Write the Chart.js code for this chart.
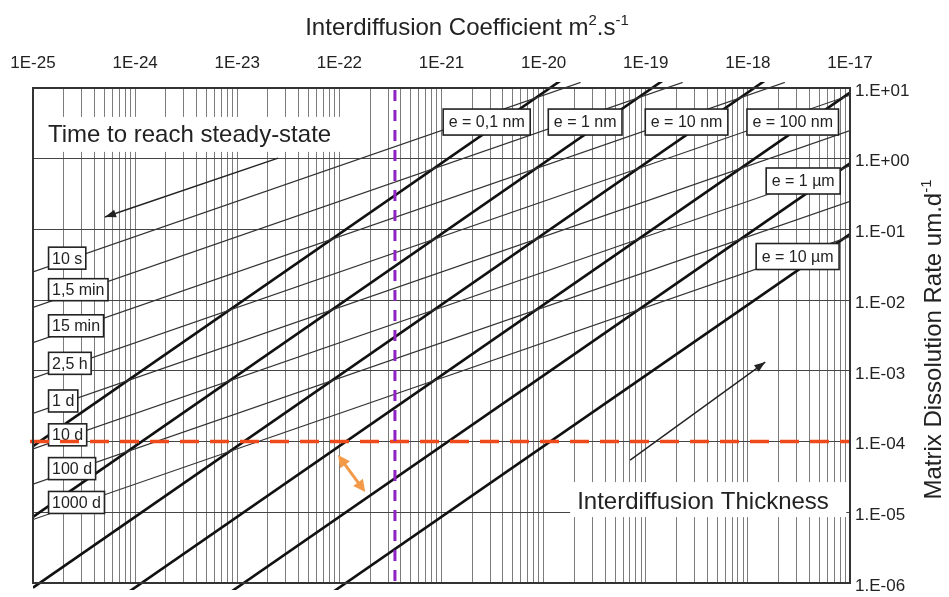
<!DOCTYPE html>
<html lang="en">
<head>
<meta charset="UTF-8">
<title>Interdiffusion Coefficient vs Matrix Dissolution Rate</title>
<script src="https://cdn.jsdelivr.net/npm/chart.js"></script>
<style>
  html, body { margin: 0; padding: 0; background: #fff; }
  #chart { display: block; }
</style>
</head>
<body>
<canvas id="chart" width="949" height="597"></canvas>
<script>
// Axis decades and their tick labels
const xDecades = [1e-25, 1e-24, 1e-23, 1e-22, 1e-21, 1e-20, 1e-19, 1e-18, 1e-17];
const xTickLabels = ['1E-25', '1E-24', '1E-23', '1E-22', '1E-21', '1E-20', '1E-19', '1E-18', '1E-17'];
const yDecades = [1e-6, 1e-5, 1e-4, 1e-3, 1e-2, 1e-1, 1e0, 1e1];
const yTickLabels = ['1.E-06', '1.E-05', '1.E-04', '1.E-03', '1.E-02', '1.E-01', '1.E+00', '1.E+01'];

// Interdiffusion thickness lines (thick), start / end points (D, rate)
const eLabels = ['e = 0,1 nm', 'e = 1 nm', 'e = 10 nm', 'e = 100 nm', 'e = 1 µm', 'e = 10 µm'];
const eStartD = [1e-25, 1e-25, 1e-25, 8.1e-25, 8.1e-24, 8.1e-23];
const eStartV = [8.6e-5, 8.6e-6, 8.6e-7, 7e-7, 7e-7, 7e-7];
const eEndD = [1.5e-20, 1.5e-19, 1.5e-18, 1e-17, 1e-17, 1e-17];
const eEndV = [13, 13, 13, 8.6, 0.86, 0.086];

// Time to reach steady-state lines (thin)
const tLabels = ['10 s', '1,5 min', '15 min', '2,5 h', '1 d', '10 d', '100 d', '1000 d'];
const tStartD = [1e-25, 1e-25, 1e-25, 1e-25, 1e-25, 1e-25, 1e-25, 1e-25];
const tStartV = [0.025, 0.0079, 0.0025, 7.9e-4, 2.5e-4, 7.9e-5, 2.5e-5, 7.9e-6];
const tEndD = [2.3e-20, 2.3e-19, 2.3e-18, 1e-17, 1e-17, 1e-17, 1e-17, 1e-17];
const tEndV = [12, 12, 12, 7.9, 2.5, 0.79, 0.25, 0.079];

// reference values (dashed lines)
const refRate = 1e-4;
const refCoef = 3.5e-22;

// annotation anchors, in data units
const eLabelD = [2.77e-21, 2.55e-20, 2.51e-19, 2.75e-18, 3.48e-18, 3.07e-18];
const eLabelV = [3.3, 3.3, 3.3, 3.3, 0.484, 0.0414];
const tLabelLeftD = 1.42e-25;

const FONT = '"Liberation Sans", Arial, Helvetica, sans-serif';
const INK = '#222';
const lineClip = { left: 0, top: 6, right: 0, bottom: 7 };

const datasets = [];
tLabels.forEach((lab, i) => {
    datasets.push({
        label: lab,
        data: [{ x: tStartD[i], y: tStartV[i] }, { x: tEndD[i], y: tEndV[i] }],
        borderColor: '#333',
        borderWidth: 1.2,
        pointRadius: 0,
        clip: lineClip
    });
});
eLabels.forEach((lab, i) => {
    datasets.push({
        label: lab,
        data: [{ x: eStartD[i], y: eStartV[i] }, { x: eEndD[i], y: eEndV[i] }],
        borderColor: '#111',
        borderWidth: 2.6,
        pointRadius: 0,
        clip: lineClip
    });
});

function decadeIndex(list, value) {
    return list.findIndex(d => Math.abs(Math.log10(d) - Math.log10(value)) < 1e-6);
}

function arrowHead(ctx, x0, y0, x1, y1, len, half) {
    const a = Math.atan2(y1 - y0, x1 - x0);
    ctx.beginPath();
    ctx.moveTo(x1, y1);
    ctx.lineTo(x1 - len * Math.cos(a) + half * Math.sin(a), y1 - len * Math.sin(a) - half * Math.cos(a));
    ctx.lineTo(x1 - len * Math.cos(a) - half * Math.sin(a), y1 - len * Math.sin(a) + half * Math.cos(a));
    ctx.closePath();
    ctx.fill();
}

function box(ctx, text, left, cy, h, padX, centered) {
    ctx.font = '16px ' + FONT;
    const w = ctx.measureText(text).width + padX * 2;
    const x = centered ? left - w / 2 : left;
    ctx.fillStyle = '#fff';
    ctx.fillRect(x, cy - h / 2, w, h);
    ctx.strokeStyle = INK;
    ctx.lineWidth = 1.6;
    ctx.strokeRect(x, cy - h / 2, w, h);
    ctx.fillStyle = INK;
    ctx.textAlign = 'center';
    ctx.textBaseline = 'middle';
    ctx.fillText(text, x + w / 2, cy + 1);
}

// text with superscript parts, drawn from x (left) on baseline y
function supText(ctx, parts, x, y) {
    let cx = x;
    ctx.textAlign = 'left';
    ctx.textBaseline = 'alphabetic';
    parts.forEach(p => {
        ctx.font = (p[1] ? '15px ' : '24px ') + FONT;
        ctx.fillText(p[0], cx, p[1] ? y - 10 : y);
        cx += ctx.measureText(p[0]).width;
    });
}
function supWidth(ctx, parts) {
    let w = 0;
    parts.forEach(p => {
        ctx.font = (p[1] ? '15px ' : '24px ') + FONT;
        w += ctx.measureText(p[0]).width;
    });
    return w;
}

const decor = {
    id: 'decor',
    beforeDatasetsDraw(chart) {
        const { ctx, scales: { x, y } } = chart;
        ctx.save();
        ctx.fillStyle = '#fff';
        // blank areas behind the two captions
        let x0 = x.getPixelForValue(1e-25) + 1, x1 = x.getPixelForValue(1.15e-22);
        let y0 = y.getPixelForValue(3.9), y1 = y.getPixelForValue(1.25);
        ctx.fillRect(x0, y0, x1 - x0, y1 - y0);
        x0 = x.getPixelForValue(1.82e-20); x1 = x.getPixelForValue(9.2e-18);
        y0 = y.getPixelForValue(2.67e-5); y1 = y.getPixelForValue(8.55e-6);
        ctx.fillRect(x0, y0, x1 - x0, y1 - y0);
        ctx.restore();
    },
    afterDatasetsDraw(chart) {
        const { ctx, chartArea: ca, scales: { x, y } } = chart;
        ctx.save();

        // time labels, sitting on their lines
        tLabels.forEach((lab, i) => {
            ctx.font = '16px ' + FONT;
            const w = ctx.measureText(lab).width + 7;
            const px0 = x.getPixelForValue(tStartD[i]), py0 = y.getPixelForValue(tStartV[i]);
            const px1 = x.getPixelForValue(tEndD[i]), py1 = y.getPixelForValue(tEndV[i]);
            const left = x.getPixelForValue(tLabelLeftD);
            const cx = left + w / 2;
            const cy = py0 + (py1 - py0) * (cx - px0) / (px1 - px0);
            box(ctx, lab, left, cy - 2, 22, 3.5, false);
        });

        // thickness labels
        eLabels.forEach((lab, i) => {
            box(ctx, lab, x.getPixelForValue(eLabelD[i]), y.getPixelForValue(eLabelV[i]), 26, 5.5, true);
        });

        // captions
        ctx.fillStyle = INK;
        ctx.font = '24px ' + FONT;
        ctx.textAlign = 'left';
        ctx.textBaseline = 'alphabetic';
        ctx.fillText('Time to reach steady-state', x.getPixelForValue(1.4e-25), y.getPixelForValue(1.72));
        ctx.fillText('Interdiffusion Thickness', x.getPixelForValue(2.13e-20), y.getPixelForValue(1.11e-5));

        // arrows
        ctx.strokeStyle = INK;
        ctx.lineWidth = 1.4;
        [[2.51e-23, 1.02, 5.07e-25, 0.15], [7.03e-20, 5.47e-5, 1.48e-18, 1.33e-3]].forEach(a => {
            const ax0 = x.getPixelForValue(a[0]), ay0 = y.getPixelForValue(a[1]);
            const ax1 = x.getPixelForValue(a[2]), ay1 = y.getPixelForValue(a[3]);
            ctx.beginPath();
            ctx.moveTo(ax0, ay0);
            ctx.lineTo(ax1, ay1);
            ctx.stroke();
            arrowHead(ctx, ax0, ay0, ax1, ay1, 11, 4);
        });

        // red dashed rate line
        const ry = y.getPixelForValue(refRate);
        ctx.strokeStyle = '#ee4a1c';
        ctx.lineWidth = 3.5;
        ctx.setLineDash([19, 11]);
        ctx.beginPath();
        ctx.moveTo(ca.left - 3, ry);
        ctx.lineTo(ca.right, ry);
        ctx.stroke();

        // purple dashed coefficient line
        const rx = x.getPixelForValue(refCoef);
        ctx.strokeStyle = '#8e22c2';
        ctx.lineWidth = 3;
        ctx.setLineDash([11, 9]);
        ctx.beginPath();
        ctx.moveTo(rx, ca.top + 2);
        ctx.lineTo(rx, ca.bottom);
        ctx.stroke();
        ctx.setLineDash([]);

        // orange double arrow
        const ox0 = x.getPixelForValue(9.7e-23), oy0 = y.getPixelForValue(6.44e-5);
        const ox1 = x.getPixelForValue(1.79e-22), oy1 = y.getPixelForValue(1.93e-5);
        ctx.strokeStyle = '#f29a48';
        ctx.fillStyle = '#f29a48';
        ctx.lineWidth = 3;
        ctx.beginPath();
        ctx.moveTo(ox0 + (ox1 - ox0) * 0.25, oy0 + (oy1 - oy0) * 0.25);
        ctx.lineTo(ox1 - (ox1 - ox0) * 0.25, oy1 - (oy1 - oy0) * 0.25);
        ctx.stroke();
        arrowHead(ctx, ox1, oy1, ox0, oy0, 12, 6);
        arrowHead(ctx, ox0, oy0, ox1, oy1, 12, 6);

        // frame
        ctx.strokeStyle = '#333';
        ctx.lineWidth = 2;
        ctx.strokeRect(ca.left, ca.top, ca.right - ca.left, ca.bottom - ca.top);
        ctx.restore();
    },
    afterDraw(chart) {
        const { ctx, chartArea: ca } = chart;
        ctx.save();
        ctx.fillStyle = INK;
        const xt = [['Interdiffusion Coefficient m', false], ['2', true], ['.s', false], ['-1', true]];
        supText(ctx, xt, 467 - supWidth(ctx, xt) / 2, 35);

        const yt = [['Matrix Dissolution Rate um.d', false], ['-1', true]];
        ctx.translate(941, (ca.top + ca.bottom) / 2 + 4);
        ctx.rotate(-Math.PI / 2);
        supText(ctx, yt, -supWidth(ctx, yt) / 2, 0);
        ctx.restore();
    }
};

const tickFont = { family: FONT, size: 17 };

new Chart(document.getElementById('chart'), {
    type: 'line',
    data: { datasets },
    options: {
        responsive: false,
        animation: false,
        events: [],
        layout: { padding: { left: 33, top: 0, right: 0, bottom: 14 } },
        plugins: { legend: { display: false }, tooltip: { enabled: false } },
        scales: {
            x: {
                type: 'logarithmic',
                position: 'top',
                min: xDecades[0],
                max: xDecades[xDecades.length - 1],
                afterBuildTicks: (s) => {
                    const ticks = [];
                    xDecades.forEach((d, i) => {
                        if (i === xDecades.length - 1) { ticks.push({ value: d }); return; }
                        for (let k = 1; k <= 9; k++) ticks.push({ value: k * d });
                    });
                    s.ticks = ticks;
                },
                afterFit: (s) => { s.height = 88; s.paddingLeft = 0; s.paddingRight = 0; },
                grid: { color: '#7c7c7c', lineWidth: 1, drawTicks: false },
                border: { display: false },
                ticks: {
                    autoSkip: false,
                    maxRotation: 0,
                    padding: 14,
                    color: INK,
                    font: tickFont,
                    callback: (v) => {
                        const i = decadeIndex(xDecades, v);
                        return i < 0 ? '' : xTickLabels[i];
                    }
                }
            },
            y: {
                type: 'logarithmic',
                position: 'right',
                min: yDecades[0],
                max: yDecades[yDecades.length - 1],
                afterBuildTicks: (s) => { s.ticks = yDecades.map(v => ({ value: v })); },
                afterFit: (s) => { s.width = 99; s.paddingTop = 0; s.paddingBottom = 0; },
                grid: { color: '#444', lineWidth: 1.1, drawTicks: false },
                border: { display: false },
                ticks: {
                    autoSkip: false,
                    padding: 5,
                    labelOffset: 3,
                    color: INK,
                    font: tickFont,
                    callback: (v) => {
                        const i = decadeIndex(yDecades, v);
                        return i < 0 ? '' : yTickLabels[i];
                    }
                }
            }
        }
    },
    plugins: [decor]
});
</script>
</body>
</html>
